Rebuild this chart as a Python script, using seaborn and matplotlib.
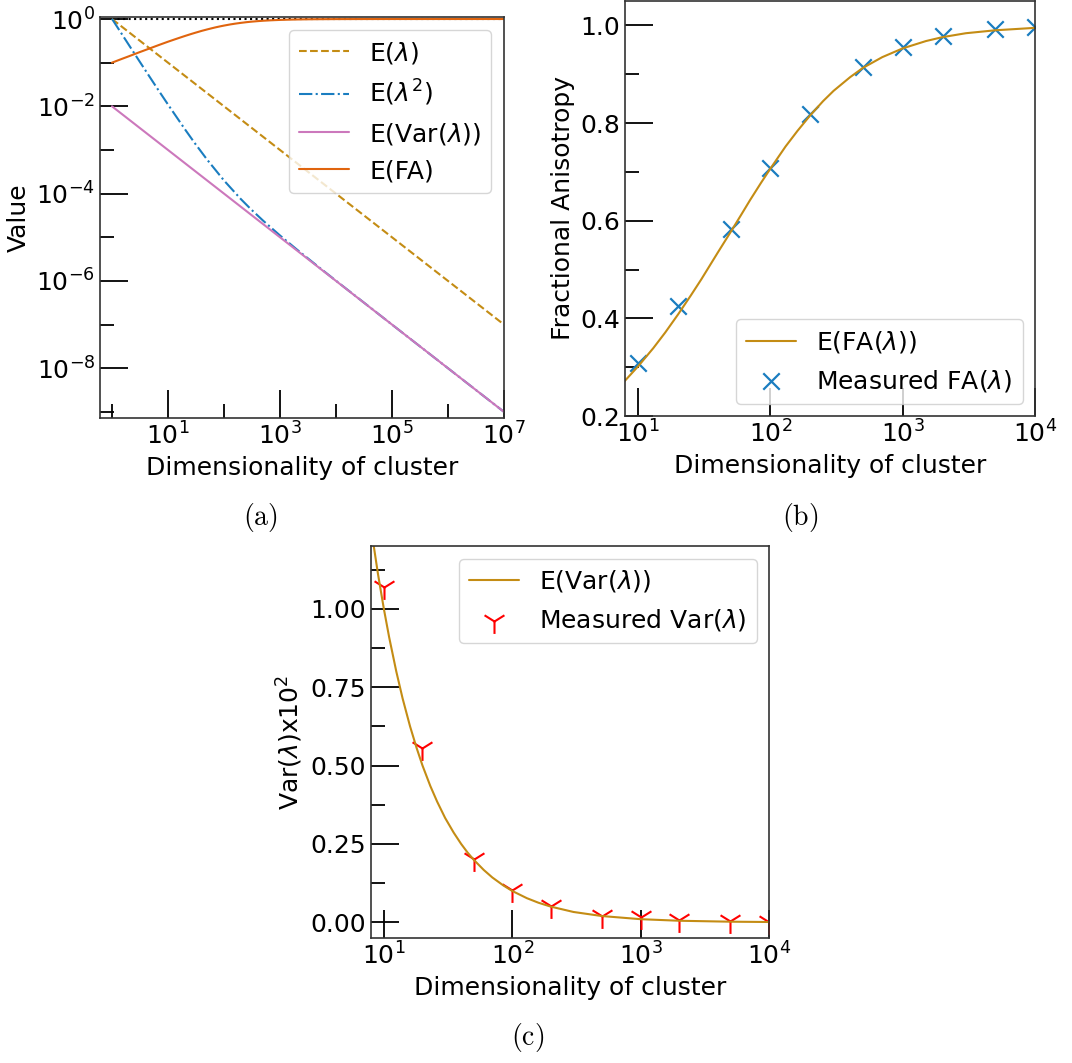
import matplotlib
matplotlib.use('Agg')
import matplotlib.pyplot as plt
import matplotlib.ticker as ticker
import seaborn as sns

# expected values vs dimensionality
dims_lin = [1, 1e7]
mean_vals = [1.0, 1e-7]
var_vals = [1e-2, 1e-9]

dims_sq = [1, 1.5, 2, 3, 5, 7, 10, 20, 30, 50, 100, 200, 300, 500,
           1000, 2000, 5000, 1e4, 1e5, 1e6, 1e7]
sq_vals = [1.01, 0.451, 0.255, 0.1144, 0.042, 0.0218, 0.011, 0.003,
           0.00144, 6e-4, 2e-4, 7.5e-5, 4.44e-5, 2.4e-5, 1.1e-5,
           5.25e-6, 2.04e-6, 1.01e-6, 1e-7, 1e-8, 1e-9]

dims_fa = [1, 1.5, 2, 3, 4, 5, 7, 10, 13, 16, 20, 25, 30, 40, 50, 60, 70,
           85, 100, 130, 160, 200, 250, 300, 400, 500, 700, 1000, 1500,
           2000, 3000, 5000, 1e4, 3e4, 1e5, 1e6, 1e7]
fa_vals = [0.100, 0.122, 0.140, 0.171, 0.196, 0.218, 0.256, 0.302, 0.339,
           0.371, 0.408, 0.447, 0.480, 0.535, 0.577, 0.612, 0.642, 0.678,
           0.707, 0.752, 0.784, 0.816, 0.845, 0.866, 0.894, 0.913, 0.935,
           0.953, 0.968, 0.976, 0.984, 0.990, 0.995, 0.998, 0.9995, 1.0, 1.0]

# measured points
meas_dims = [10, 20, 50, 100, 200, 500, 1000, 2000, 5000, 10000]
meas_fa = [0.309, 0.426, 0.582, 0.708, 0.819, 0.915, 0.956, 0.979, 0.992, 0.997]
meas_var = [1.07, 0.557, 0.201, 0.103, 0.053, 0.021, 0.016, 0.0085, 0.004, 0.002]

# E(Var) x 10^2 curve for panel (c)
dims_var = [8, 9, 10, 11, 12.5, 14, 16, 18, 20, 23, 26, 30, 35, 40, 45, 50,
            60, 70, 85, 100, 130, 160, 200, 300, 500, 1000, 2000, 5000, 1e4]
var100_vals = [1.25, 1.111, 1.0, 0.909, 0.8, 0.714, 0.625, 0.556, 0.5, 0.435,
               0.385, 0.333, 0.286, 0.25, 0.222, 0.2, 0.167, 0.143, 0.118,
               0.1, 0.077, 0.0625, 0.05, 0.033, 0.02, 0.01, 0.005, 0.002, 0.001]

gold = '#C48C14'
blue = '#1A7DC0'
pink = '#CC78BC'
orange = '#E0640E'

sns.set_style('white')
plt.rcParams['font.family'] = ['DejaVu Sans']
plt.rcParams['font.size'] = 18
plt.rcParams['text.color'] = 'black'
plt.rcParams['axes.labelcolor'] = 'black'
plt.rcParams['xtick.color'] = 'black'
plt.rcParams['ytick.color'] = 'black'
plt.rcParams['axes.edgecolor'] = '.2'
plt.rcParams['axes.linewidth'] = 1.2
plt.rcParams['lines.linewidth'] = 1.5

fig = plt.figure(figsize=(10.72, 10.63), dpi=100)
W, H = 1072, 1063


def add_axes(l, r, t, b):
    return fig.add_axes([l / W, 1 - b / H, (r - l) / W, (b - t) / H])


def style_ticks(ax):
    ax.tick_params(which='both', direction='in', left=True, bottom=True,
                   top=False, right=False, labelsize=18, color='black',
                   labelcolor='black')
    ax.tick_params(which='major', length=20, width=1.3)
    ax.tick_params(which='minor', length=10, width=1.3)


# ---------- (a)
ax = add_axes(100, 504, 17, 418)
ax.plot([1, 1e7], [1, 1], ':', color='black', lw=1.5)
sns.lineplot(x=dims_lin, y=mean_vals, ax=ax, color=gold, linestyle='--',
             label=r'E($\lambda$)')
sns.lineplot(x=dims_sq, y=sq_vals, ax=ax, color=blue, linestyle='-.',
             label=r'E($\lambda^2$)')
sns.lineplot(x=dims_lin, y=var_vals, ax=ax, color=pink,
             label=r'E(Var($\lambda$))')
sns.lineplot(x=dims_fa, y=fa_vals, ax=ax, color=orange, label='E(FA)')
ax.set_xscale('log')
ax.set_yscale('log')
ax.set_xlim(10 ** -0.214, 1e7)
ax.set_ylim(10 ** -9.14, 10 ** 0.046)
ax.set_xticks([1e1, 1e3, 1e5, 1e7])
ax.set_xticks([1e0, 1e2, 1e4, 1e6], minor=True)
ax.set_yticks([1e0, 1e-2, 1e-4, 1e-6, 1e-8])
ax.set_yticks([1e-1, 1e-3, 1e-5, 1e-7, 1e-9], minor=True)
ax.xaxis.set_minor_formatter(ticker.NullFormatter())
ax.yaxis.set_minor_formatter(ticker.NullFormatter())
ax.set_xlabel('Dimensionality of cluster', fontsize=18)
ax.set_ylabel('Value', fontsize=18)
style_ticks(ax)
ax.legend(loc='upper right', fontsize=18)

# ---------- (b)
ax = add_axes(625, 1035, 1, 416)
sns.lineplot(x=dims_fa, y=fa_vals, ax=ax, color=gold,
             label=r'E(FA($\lambda$))')
sns.scatterplot(x=meas_dims, y=meas_fa, ax=ax, color=blue, marker='x',
                s=140, linewidth=1.6, label=r'Measured FA($\lambda$)')
ax.set_xscale('log')
ax.set_xlim(10 ** 0.9, 1e4)
ax.set_ylim(0.2, 1.05)
ax.set_xticks([1e1, 1e2, 1e3, 1e4])
ax.xaxis.set_minor_locator(ticker.NullLocator())
ax.set_yticks([0.2, 0.4, 0.6, 0.8, 1.0])
ax.set_yticks([0.3, 0.5, 0.7, 0.9], minor=True)
ax.yaxis.set_major_formatter(ticker.FormatStrFormatter('%.1f'))
ax.set_xlabel('Dimensionality of cluster', fontsize=18)
ax.set_ylabel('Fractional Anisotropy', fontsize=18)
style_ticks(ax)
ax.legend(loc='lower right', fontsize=18)

# ---------- (c)
ax = add_axes(371, 769, 546, 938)
sns.lineplot(x=dims_var, y=var100_vals, ax=ax, color=gold,
             label=r'E(Var($\lambda$))')
sns.scatterplot(x=meas_dims, y=meas_var, ax=ax, color='red', marker='1',
                s=320, linewidth=1.5, label=r'Measured Var($\lambda$)')
ax.set_xscale('log')
ax.set_xlim(10 ** 0.9, 1e4)
ax.set_ylim(-0.05, 1.2)
ax.set_xticks([1e1, 1e2, 1e3, 1e4])
ax.xaxis.set_minor_locator(ticker.NullLocator())
ax.set_yticks([0.0, 0.25, 0.5, 0.75, 1.0])
ax.set_yticks([0.125, 0.375, 0.625, 0.875, 1.125], minor=True)
ax.yaxis.set_major_formatter(ticker.FormatStrFormatter('%.2f'))
ax.set_xlabel('Dimensionality of cluster', fontsize=18)
ax.set_ylabel(r'Var($\lambda$)x$10^2$', fontsize=18)
style_ticks(ax)
ax.legend(loc='upper right', fontsize=18)

# sub-figure captions
for x, y, s in [(260, 518, '(a)'), (800, 518, '(b)'), (528, 1037, '(c)')]:
    fig.text(x / W, 1 - y / H, r'$\mathrm{' + s + '}$', math_fontfamily='cm',
             fontsize=20, ha='center', va='center')

fig.savefig('out.png', dpi=100)
